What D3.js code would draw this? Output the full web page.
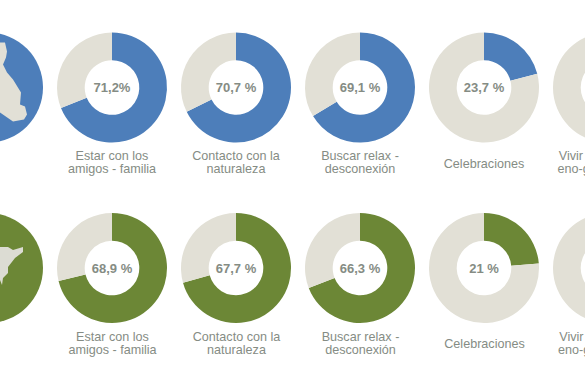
<!DOCTYPE html>
<html>
<head>
<meta charset="utf-8">
<script src="https://cdn.jsdelivr.net/npm/d3@7"></script>
<style>
html, body { margin: 0; padding: 0; background: #fff; overflow: hidden; }
svg { display: block; }
text { font-family: "Liberation Sans", Arial, sans-serif; }
</style>
</head>
<body>
<script>
// the labels as printed
var categories = [
    ["Estar con los", "amigos - familia"],
    ["Contacto con la", "naturaleza"],
    ["Buscar relax -", "desconexión"],
    ["Celebraciones"],
    ["Vivir experiencias", "eno-gastronómica"]
];
var labelsTop = ["71,2%", "70,7 %", "69,1 %", "23,7 %"];
var labelsBottom = ["68,9 %", "67,7 %", "66,3 %", "21 %"];

// sizes of the slices (the two rows are drawn crossed over in the original)
var sharesTop = [68.9, 67.7, 66.3, 21];
var sharesBottom = [71.2, 70.7, 69.1, 23.7];

// outlines of the land in the cropped map discs, relative to disc centre
var mapTop = [[-20,-45],[12,-45],[17,-45],[19,-36],[18,-30],[15,-23],[19,-15],[25,-8],[33,5],[32,17],[37,19],[39,27],[36,32],[25,34],[12,25],[-20,25]];
var mapBottom = [[-20,-21],[12,-21],[20,-21],[25,-18],[35,-21],[35,-16],[27,-10],[20,-1],[20,5],[15,10],[14,17],[12,12],[-20,12]];

var width = 585;
var height = 390;
var blue = "#4d7eba";
var green = "#6c8736";
var beige = "#e2e0d6";
var textColor = "#858c84";

var rOuter = 55;
var rInner = 27.3;

var svg = d3.select("body").append("svg")
    .attr("width", width)
    .attr("height", height);

var x = d3.scalePoint()
    .domain(d3.range(6))
    .range([-12, 608]);

var pie = d3.pie().sort(null);
var arc = d3.arc().innerRadius(rInner).outerRadius(rOuter);
var outline = d3.line();

function drawRow(cy, color, shares, labels, map, mapFill, dx) {
    var row = svg.append("g");

    // map disc at the left edge
    var disc = row.append("g").attr("transform", "translate(" + x(0) + "," + cy + ")");
    disc.append("circle").attr("r", rOuter).attr("fill", color);
    disc.append("path")
        .attr("d", outline(map) + "Z")
        .attr("fill", mapFill);

    // one ring per category
    categories.forEach(function(lines, i) {
        var cx = x(i + 1);
        var g = row.append("g").attr("transform", "translate(" + cx + "," + cy + ")");

        if (i < shares.length) {
            g.selectAll("path")
                .data(pie([shares[i], 100 - shares[i]]))
                .enter()
                .append("path")
                .attr("d", arc)
                .attr("fill", function(d, j) { return j == 0 ? color : beige; });

            g.append("text")
                .attr("text-anchor", "middle")
                .attr("y", 4.5)
                .attr("font-size", 13)
                .attr("font-weight", "bold")
                .attr("fill", textColor)
                .text(labels[i]);
        } else {
            // the last ring is cut by the frame, only its empty part shows
            g.append("path")
                .attr("d", arc({startAngle: 0, endAngle: 2 * Math.PI}))
                .attr("fill", beige);
        }

        var caption = g.append("text")
            .attr("text-anchor", "middle")
            .attr("font-size", 12.6)
            .attr("fill", textColor);
        lines.forEach(function(line, k) {
            caption.append("tspan")
                .attr("x", dx)
                .attr("y", lines.length == 1 ? 80 : 72.5 + k * 13)
                .text(line);
        });
    });
}

drawRow(87.5, blue, sharesTop, labelsTop, mapTop, beige, 0);
drawRow(268, green, sharesBottom, labelsBottom, mapBottom, "#dcdcd3", 0.5);
</script>
</body>
</html>
